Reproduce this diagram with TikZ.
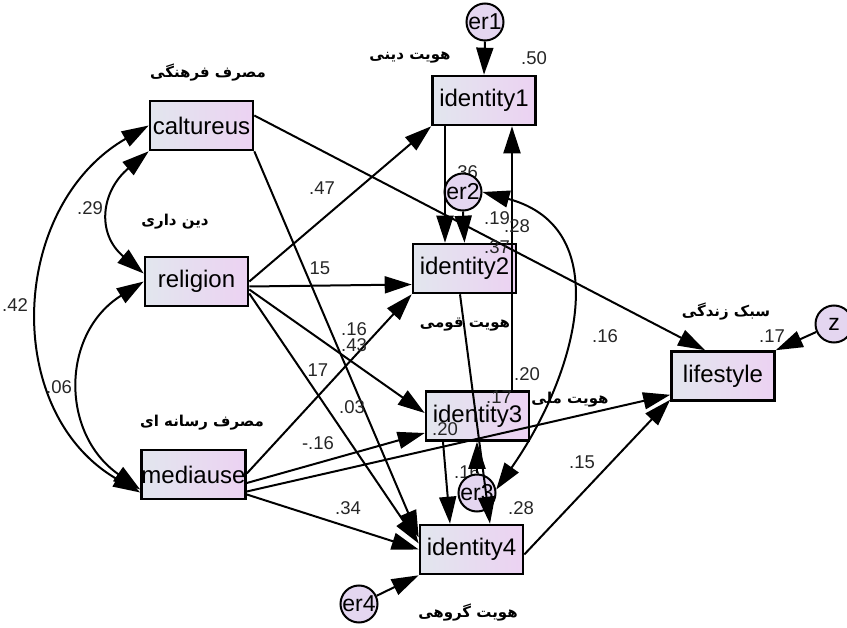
\documentclass[tikz,border=0pt]{standalone}
\usepackage{fontspec}
\setmainfont{Liberation Sans}
\newfontfamily\farsi[Script=Arabic]{DejaVu Sans}
\TeXXeTstate=1
\usetikzlibrary{arrows.meta}

\definecolor{boxl}{RGB}{226,230,238}
\definecolor{boxr}{RGB}{236,210,242}
\definecolor{errfill}{RGB}{228,214,240}

\tikzset{
  obs/.style={draw, line width=2.6pt, left color=boxl, right color=boxr,
    minimum width=103pt, minimum height=49pt, inner sep=0pt,
    font=\fontsize{24}{24}\selectfont},
  err/.style={circle, draw, line width=2pt, fill=errfill, minimum size=37pt,
    inner sep=0pt, font=\fontsize{23}{23}\selectfont},
  reg/.style={line width=2pt, -{Triangle[length=27pt,width=17pt]}},
  cov/.style={line width=2pt, {Triangle[length=27pt,width=17pt]}-{Triangle[length=27pt,width=17pt]}},
  coef/.style={inner sep=0pt, text=black!85, font=\fontsize{18.5}{18.5}\selectfont},
  fa/.style={inner sep=0pt, font=\farsi\bfseries\fontsize{15}{15}\selectfont}
}

\begin{document}
\begin{tikzpicture}[x=1pt,y=-1pt]
  \useasboundingbox (0,0) rectangle (847,628);

  % Observed variables
  \node[obs] (cult) at (201.5,125.5) {caltureus};
  \node[obs] (rel)  at (196.5,281.5) {religion};
  \node[obs] (med)  at (193.5,474.5) {mediause};
  \node[obs] (id1)  at (484,100.5) {identity1};
  \node[obs] (id2)  at (464.5,268.5) {identity2};
  \node[obs] (id3)  at (477.5,416) {identity3};
  \node[obs] (id4)  at (471.5,549.5) {identity4};
  \node[obs] (life) at (723,376) {lifestyle};

  % R squares hidden behind the error circles
  \node[coef] (r2) at (465,172) {.36};
  \node[coef] (r3) at (467,472) {.16};

  % Errors
  \node[err] (er1) at (485,22) {er1};
  \node[err] (er2) at (463,192) {er2};
  \node[err] (er3) at (477,493) {er3};
  \node[err] (er4) at (359,604) {er4};
  \node[err] (z)   at (834,324) {z};

  % Paths from the exogenous variables
  \draw[reg] ([yshift=10pt]cult.east) -- ([xshift=-18pt]life.north);
  \draw[reg] (cult.south east) -- ([yshift=12pt]id4.west);
  \draw[reg] (rel.east) -- (id1.south west);
  \draw[reg] ([yshift=-5pt]rel.east) -- ([yshift=-16pt]id2.west);
  \draw[reg] ([yshift=-8pt]rel.east) -- ([yshift=3pt]id3.west);
  \draw[reg] ([yshift=-12pt]rel.east) -- ([yshift=6pt]id4.west);
  \draw[reg] ([yshift=1pt]med.east) -- (id2.south west);
  \draw[reg] ([yshift=-8.5pt]med.east) -- ([yshift=-17pt]id3.west);
  \draw[reg] ([yshift=-17pt]med.east) -- ([yshift=7pt]life.south west);
  \draw[reg] ([yshift=-20pt]med.east) -- (id4.west);

  % Paths between the identities
  \draw[reg] ([xshift=-39pt]id1.south) -- ([xshift=-19.5pt]id2.north);
  \draw[reg] ([xshift=34.5pt]id3.north) -- ([xshift=28pt]id1.south);
  \draw[reg] ([xshift=-4.5pt]id2.south) -- ([xshift=18.5pt]id4.north);
  \draw[reg] ([xshift=-34.5pt]id3.south) -- ([xshift=-21.5pt]id4.north);
  \draw[reg] ([yshift=-5pt]id4.east) -- ([yshift=2pt]life.south west);

  % Error paths
  \draw[reg] (er1.south) -- (id1.north);
  \draw[reg] (er2.south) -- (id2.north);
  \draw[reg] (er3.north) -- (er3.north |- id3.south);
  \draw[reg] (er4.25) -- (id4.south west);
  \draw[reg] (z) -- (life.north east);

  % Covariances
  \draw[cov] (cult.south west) to[out=220, in=140, looseness=1.3] ([yshift=8pt]rel.west);
  \draw[cov] (cult.west) to[out=210, in=150, looseness=1.12] ([yshift=-18pt]med.west);
  \draw[cov] (rel.west) to[out=212, in=145, looseness=1.2] ([yshift=-15pt]med.west);
  \draw[cov] (er2.east) to[out=-15, in=55, looseness=1.2] (er3.10);

  % Estimates
  \node[coef] (c1)  at (90,208) {.29};
  \node[coef] (c2)  at (15,305) {.42};
  \node[coef] (c3)  at (59,387) {.06};
  \node[coef] (c4)  at (322,188) {.47};
  \node[coef] (c5)  at (320,268) {15};
  \node[coef] (c6)  at (354,329) {.16};
  \node[coef] (c7)  at (354,345) {.43};
  \node[coef] (c8)  at (318,370) {17};
  \node[coef] (c9)  at (352,407) {.03};
  \node[coef] (c10) at (318,443) {-.16};
  \node[coef] (c11) at (348,508) {.34};
  \node[coef] (c12) at (534,58) {.50};
  \node[coef] (c13) at (497,218) {.19};
  \node[coef] (c14) at (517,226) {.28};
  \node[coef] (c15) at (497,247) {.37};
  \node[coef] (c16) at (605,336) {.16};
  \node[coef] (c17) at (772,336) {.17};
  \node[coef] (c18) at (527,374) {.20};
  \node[coef] (c19) at (499,397) {.17};
  \node[coef] (c20) at (445,429) {.20};
  \node[coef] (c21) at (582,462) {.15};
  \node[coef] (c22) at (521,508) {.28};

  % Persian titles
  \node[fa] (tcult) at (208,73) {\beginR مصرف فرهنگی\endR};
  \node[fa] (trel)  at (175,222) {\beginR دین داری\endR};
  \node[fa] (tmed)  at (202,423) {\beginR مصرف رسانه ای\endR};
  \node[fa] (tid1)  at (410,58) {\beginR هویت دینی\endR};
  \node[fa] (tid2)  at (465,325) {\beginR هویت قومی\endR};
  \node[fa] (tid3)  at (570,400) {\beginR هویت ملی\endR};
  \node[fa] (tlife) at (726,312) {\beginR سبک زندگی\endR};
  \node[fa] (tid4)  at (468,613) {\beginR هویت گروهی\endR};
\end{tikzpicture}
\end{document}
